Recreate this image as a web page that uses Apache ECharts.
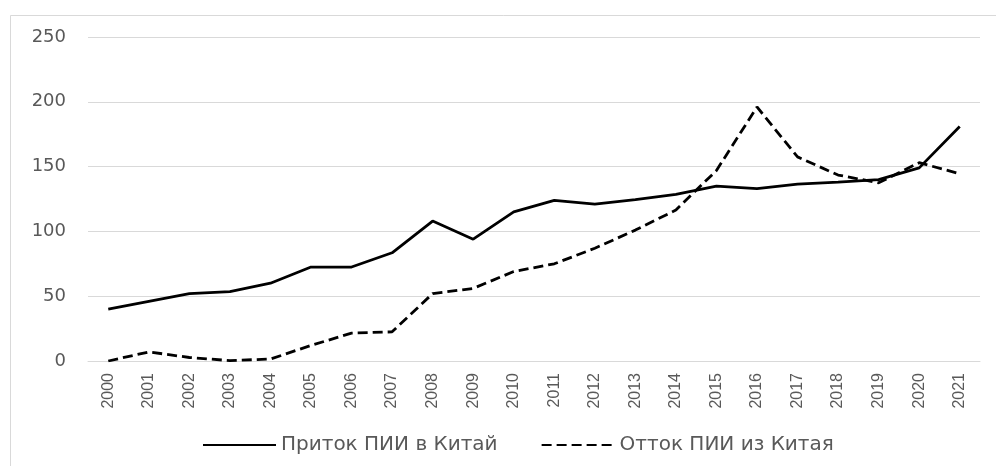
<!DOCTYPE html>
<html>
<head>
<meta charset="utf-8">
<script src="https://cdn.jsdelivr.net/npm/echarts@6/dist/echarts.min.js"></script>
<style>
  html, body { margin: 0; padding: 0; background: #fff; }
  #chart { width: 996px; height: 466px; }
</style>
</head>
<body>
<div id="chart"></div>
<script>
// years on the x axis
const years = ["2000", "2001", "2002", "2003", "2004", "2005", "2006", "2007", "2008", "2009", "2010",
  "2011", "2012", "2013", "2014", "2015", "2016", "2017", "2018", "2019", "2020", "2021"];

// FDI inflow into China
const inflow = [40, 46, 52, 53.5, 60, 72.5, 72.5, 83.5, 108, 94, 115,
  124, 121, 124.5, 128.5, 135, 133, 136.5, 138, 140, 149, 181];

// FDI outflow from China
const outflow = [0, 7, 2.7, 0.3, 1.5, 12, 21.5, 22.5, 52, 56, 69,
  75, 87, 101, 116.5, 147, 196, 157.5, 143.5, 137.5, 153, 144.5];

const seriesNames = ["Приток ПИИ в Китай", "Отток ПИИ из Китая"];

const labelColor = "#595959";
const gridColor = "#d9d9d9";

const chart = echarts.init(document.getElementById("chart"));

chart.setOption({
  animation: false,
  backgroundColor: "#fff",
  graphic: [{
    type: "rect",
    shape: { x: 10.5, y: 15.5, width: 1000, height: 500 },
    style: { fill: "none", stroke: gridColor, lineWidth: 1 },
    silent: true,
  }],
  grid: { left: 88, right: 16, top: 37, bottom: 105 },
  legend: {
    left: 197,
    top: 430,
    itemWidth: 73,
    itemHeight: 14,
    itemGap: 43,
    itemStyle: { opacity: 0 },
    textStyle: { color: labelColor, fontSize: 20, fontFamily: "DejaVu Sans" },
    data: seriesNames,
  },
  xAxis: {
    type: "category",
    data: years,
    boundaryGap: true,
    axisLine: { lineStyle: { color: gridColor } },
    axisTick: { show: false },
    axisLabel: { rotate: 90, color: labelColor, fontSize: 16, fontFamily: "Liberation Sans", margin: 12 },
  },
  yAxis: {
    type: "value",
    min: 0,
    max: 250,
    interval: 50,
    axisLine: { show: false },
    axisTick: { show: false },
    splitLine: { lineStyle: { color: gridColor, width: 1 } },
    axisLabel: { color: labelColor, fontSize: 18, fontFamily: "DejaVu Sans", margin: 22 },
  },
  series: [
    {
      name: seriesNames[0],
      type: "line",
      data: inflow,
      symbol: "none",
      lineStyle: { color: "#000", width: 2.8 },
      itemStyle: { color: "#000" },
    },
    {
      name: seriesNames[1],
      type: "line",
      data: outflow,
      symbol: "none",
      lineStyle: { color: "#000", width: 2.8, type: [10, 5] },
      itemStyle: { color: "#000" },
    },
  ],
});
</script>
</body>
</html>
